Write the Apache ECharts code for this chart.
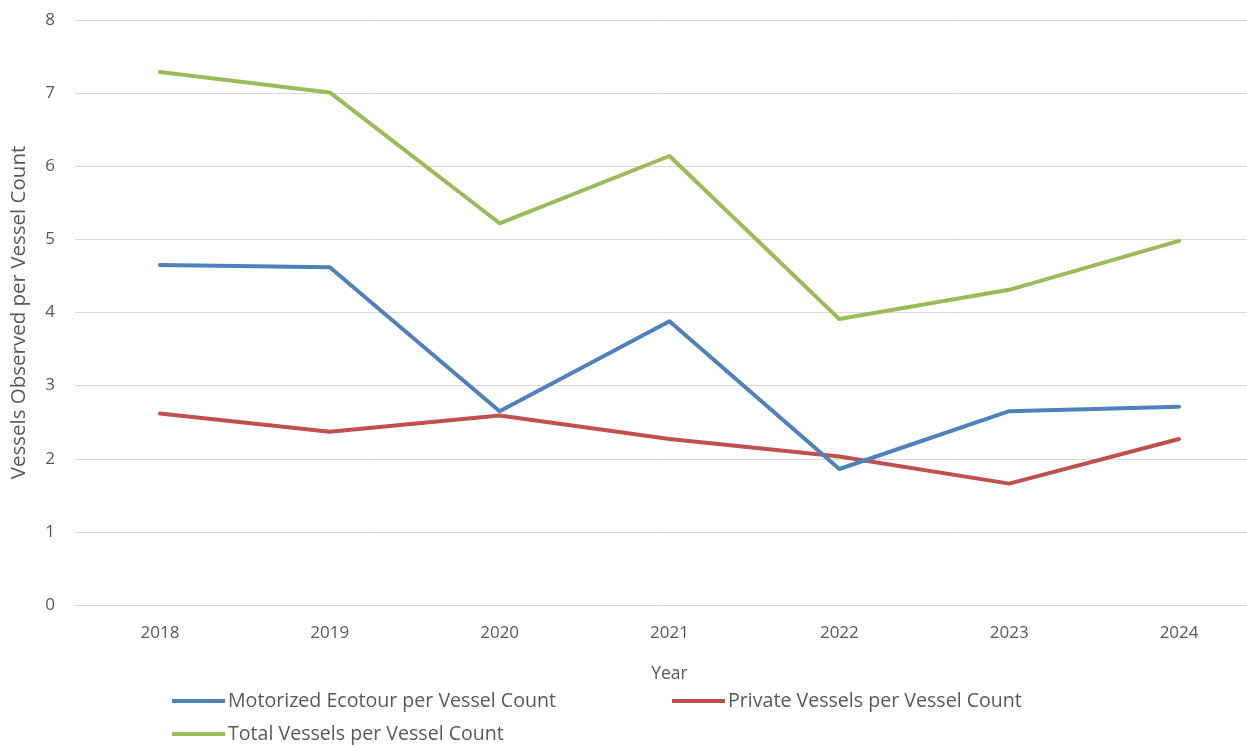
<!DOCTYPE html>
<html>
<head>
<meta charset="utf-8">
<script src="https://cdn.jsdelivr.net/npm/echarts@6/dist/echarts.min.js"></script>
<style>
  html, body { margin: 0; padding: 0; background: #fff; }
  #chart { width: 1247px; height: 747px; }
</style>
</head>
<body>
<div id="chart"></div>
<script>
// Survey years on the category axis
const years = ['2018', '2019', '2020', '2021', '2022', '2023', '2024'];

// Vessels observed per vessel count, by year
const motorizedEcotour = [4.65, 4.62, 2.65, 3.88, 1.86, 2.65, 2.71];
const privateVessels   = [2.62, 2.37, 2.59, 2.27, 2.03, 1.66, 2.27];
const totalVessels     = [7.29, 7.01, 5.22, 6.14, 3.91, 4.31, 4.98];

const seriesNames = [
  'Motorized Ecotour per Vessel Count',
  'Private Vessels per Vessel Count',
  'Total Vessels per Vessel Count'
];
const colors = ['#4F81BD', '#C0504D', '#9BBB59'];
const textColor = '#595959';
const fontFamily = '"Open Sans", "Liberation Sans", sans-serif';

const chart = echarts.init(document.getElementById('chart'), null, { renderer: 'canvas' });

function legendAt(name, left, top) {
  return {
    data: [name],
    left: left,
    top: top,
    icon: 'rect',
    itemWidth: 53,
    itemHeight: 4,
    itemGap: 0,
    padding: 0,
    textStyle: { color: textColor, fontSize: 19.6, fontFamily: fontFamily, padding: [0, 0, 0, -2] },
    selectedMode: false
  };
}

const option = {
  animation: false,
  backgroundColor: '#ffffff',
  color: colors,
  grid: {
    left: 75,
    top: 20,
    width: 1189,
    bottom: 142,
    containLabel: false,
    outerBoundsMode: 'none'
  },
  legend: [
    legendAt(seriesNames[0], 172, 691),
    legendAt(seriesNames[1], 672, 691),
    legendAt(seriesNames[2], 172, 724)
  ],
  xAxis: {
    type: 'category',
    data: years,
    boundaryGap: true,
    name: 'Year',
    nameLocation: 'middle',
    nameGap: 60,
    nameTextStyle: { color: textColor, fontSize: 17.5, fontFamily: fontFamily },
    axisLine: { show: true, lineStyle: { color: '#d9d9d9', width: 1 } },
    axisTick: { show: false },
    axisLabel: { color: textColor, fontSize: 17, fontFamily: fontFamily, margin: 20 }
  },
  yAxis: {
    type: 'value',
    min: 0,
    max: 8,
    interval: 1,
    name: 'Vessels Observed per Vessel Count',
    nameLocation: 'middle',
    nameGap: 45,
    nameRotate: 90,
    nameTextStyle: { color: textColor, fontSize: 20.5, fontFamily: fontFamily },
    axisLine: { show: false },
    axisTick: { show: false },
    axisLabel: { color: textColor, fontSize: 17, fontFamily: fontFamily, margin: 20 },
    splitLine: { show: true, lineStyle: { color: '#d9d9d9', width: 1 } }
  },
  series: [
    { name: seriesNames[0], type: 'line', data: motorizedEcotour },
    { name: seriesNames[1], type: 'line', data: privateVessels },
    { name: seriesNames[2], type: 'line', data: totalVessels }
  ].map((s, i) => Object.assign(s, {
    symbol: 'none',
    showSymbol: false,
    lineStyle: { color: colors[i], width: 4, cap: 'round', join: 'round' },
    itemStyle: { color: colors[i] },
    z: 3 - i
  }))
};

chart.setOption(option);
</script>
</body>
</html>
